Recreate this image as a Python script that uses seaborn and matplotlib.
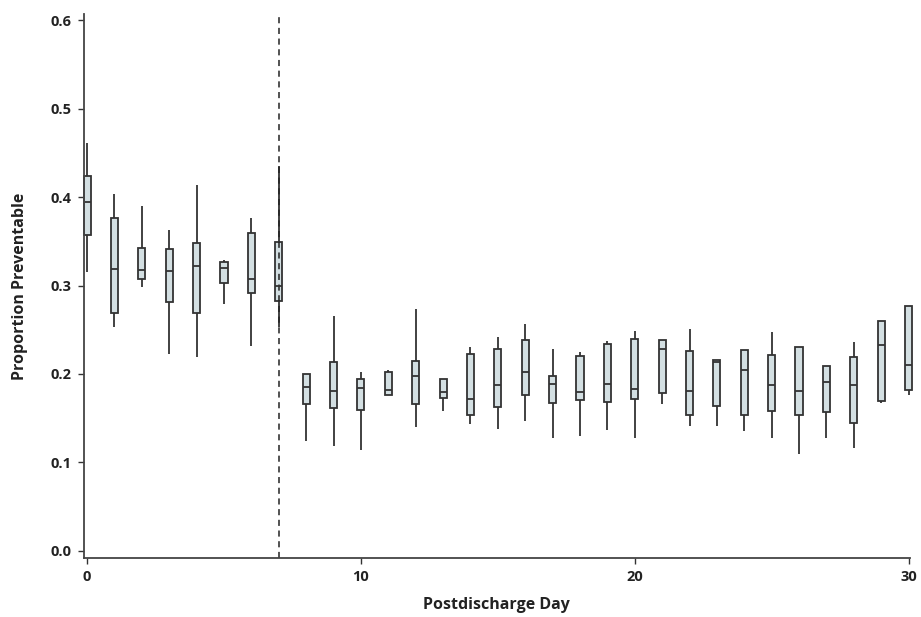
import matplotlib
matplotlib.use("Agg")
import matplotlib.pyplot as plt
import pandas as pd
import seaborn as sns

# per-day box summaries
days = list(range(31))
whisker_low = [0.315, 0.253, 0.298, 0.223, 0.219, 0.279, 0.232, 0.253,
               0.124, 0.119, 0.114, 0.176, 0.140, 0.158, 0.143, 0.138,
               0.147, 0.127, 0.130, 0.137, 0.128, 0.166, 0.141, 0.141,
               0.135, 0.127, 0.109, 0.127, 0.116, 0.167, 0.176]
q1 = [0.357, 0.269, 0.307, 0.281, 0.269, 0.303, 0.292, 0.283,
      0.166, 0.162, 0.159, 0.176, 0.166, 0.173, 0.154, 0.163,
      0.176, 0.167, 0.171, 0.168, 0.172, 0.178, 0.153, 0.164,
      0.154, 0.158, 0.153, 0.157, 0.145, 0.169, 0.182]
median = [0.395, 0.319, 0.318, 0.317, 0.322, 0.320, 0.307, 0.300,
          0.185, 0.181, 0.184, 0.182, 0.198, 0.180, 0.172, 0.188,
          0.202, 0.189, 0.179, 0.189, 0.183, 0.228, 0.181, 0.213,
          0.205, 0.188, 0.181, 0.191, 0.187, 0.233, 0.210]
q3 = [0.424, 0.376, 0.343, 0.341, 0.348, 0.327, 0.360, 0.349,
      0.200, 0.214, 0.194, 0.202, 0.215, 0.194, 0.222, 0.228,
      0.238, 0.198, 0.220, 0.234, 0.240, 0.238, 0.226, 0.216,
      0.227, 0.221, 0.231, 0.209, 0.219, 0.260, 0.277]
whisker_high = [0.461, 0.403, 0.390, 0.363, 0.414, 0.329, 0.376, 0.435,
                0.200, 0.266, 0.202, 0.204, 0.273, 0.194, 0.230, 0.242,
                0.257, 0.228, 0.225, 0.237, 0.248, 0.238, 0.251, 0.216,
                0.227, 0.247, 0.231, 0.209, 0.236, 0.260, 0.277]

cutoff_day = 7
y_ticks = [0.0, 0.1, 0.2, 0.3, 0.4, 0.5, 0.6]
x_ticks = [0, 10, 20, 30]

# five points per day give exactly these quartiles with min/max whiskers
rows = []
for i, d in enumerate(days):
    for v in (whisker_low[i], q1[i], median[i], q3[i], whisker_high[i]):
        rows.append({"day": d, "value": v})
df = pd.DataFrame(rows)

sns.set_style("ticks")
plt.rcParams["font.family"] = ["Open Sans", "DejaVu Sans"]

fig = plt.figure(figsize=(9.21, 6.17), dpi=100)
ax = fig.add_axes([0.091, 0.096, 0.897, 0.881])

sns.boxplot(
    data=df, x="day", y="value", native_scale=True,
    whis=(0, 100), width=0.26, color="#d3dfe2", saturation=1,
    linecolor="#333333", linewidth=1.3, showcaps=False,
    showfliers=False, ax=ax,
)
for patch in ax.patches:
    patch.set_clip_on(False)
for line in ax.lines:
    line.set_clip_on(False)

ax.axvline(cutoff_day, color="#222222", linestyle=(0, (4, 3)), linewidth=1.1)

ax.set_xlim(-0.12, 30.05)
ax.set_ylim(-0.008, 0.607)
ax.set_xticks(x_ticks)
ax.set_yticks(y_ticks)
ax.set_yticklabels([f"{t:.1f}" for t in y_ticks])
ax.tick_params(axis="both", length=4, width=1.0, color="#333333",
               labelsize=10.5, labelcolor="#222222", pad=5)
for lab in ax.get_xticklabels() + ax.get_yticklabels():
    lab.set_fontweight("bold")

for side in ("top", "right"):
    ax.spines[side].set_visible(False)
for side in ("left", "bottom"):
    ax.spines[side].set_color("#444444")
    ax.spines[side].set_linewidth(1.3)

ax.set_xlabel("Postdischarge Day", fontsize=11.5, fontweight="bold",
              color="#222222", labelpad=9)
ax.set_ylabel("Proportion Preventable", fontsize=11.5, fontweight="bold",
              color="#222222", labelpad=16)

fig.savefig("out.png", dpi=100)
